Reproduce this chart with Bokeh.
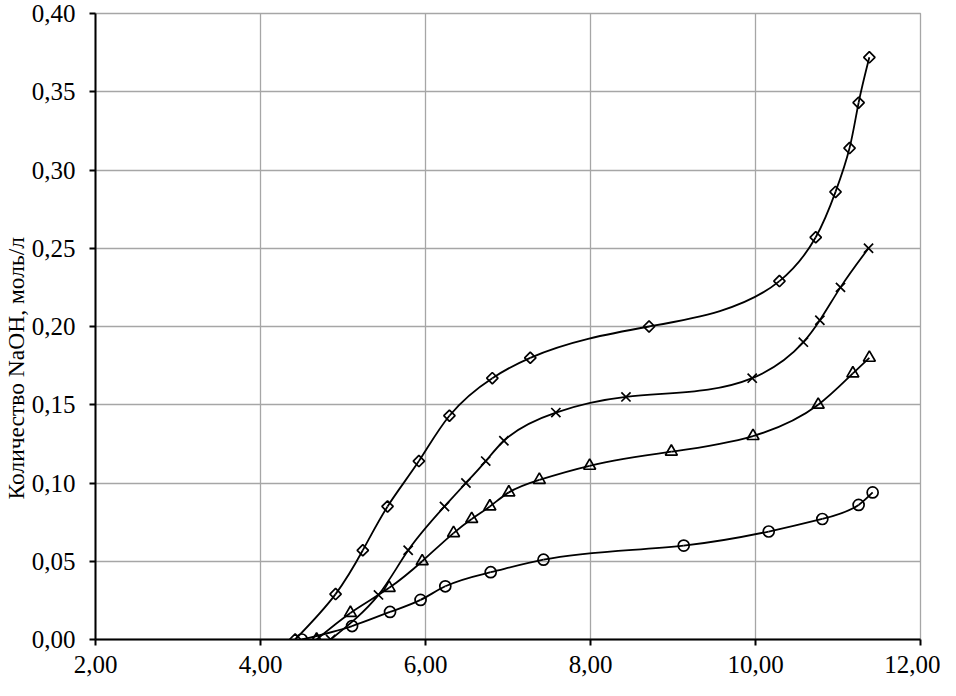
import math
from bokeh.plotting import figure
from bokeh.models import FixedTicker, CustomJSTickFormatter, ColumnDataSource, Title
from bokeh.embed import file_html
from bokeh.resources import INLINE

# ---- data ----
diamond_x = [4.42, 4.91, 5.24, 5.54, 5.92, 6.29, 6.81, 7.27, 8.71, 10.29, 10.73, 10.97, 11.14, 11.25, 11.38]
diamond_y = [0.000, 0.029, 0.057, 0.085, 0.114, 0.143, 0.167, 0.180, 0.200, 0.229, 0.257, 0.286, 0.314, 0.343, 0.372]

cross_x = [4.85, 5.43, 5.79, 6.23, 6.49, 6.73, 6.95, 7.58, 8.43, 9.96, 10.58, 10.78, 11.03, 11.37]
cross_y = [0.000, 0.0285, 0.057, 0.085, 0.100, 0.114, 0.127, 0.145, 0.155, 0.167, 0.190, 0.204, 0.225, 0.250]

triangle_x = [4.68, 5.09, 5.56, 5.96, 6.34, 6.56, 6.78, 7.01, 7.38, 7.99, 8.98, 9.97, 10.76, 11.18, 11.38]
triangle_y = [0.000, 0.017, 0.033, 0.050, 0.068, 0.077, 0.085, 0.094, 0.102, 0.111, 0.120, 0.130, 0.150, 0.170, 0.180]

circle_x = [4.50, 5.11, 5.57, 5.94, 6.24, 6.79, 7.43, 9.13, 10.16, 10.81, 11.25, 11.42]
circle_y = [0.000, 0.0086, 0.0176, 0.0253, 0.034, 0.043, 0.051, 0.060, 0.069, 0.077, 0.086, 0.094]

x_ticks = [2, 4, 6, 8, 10, 12]
y_ticks = [0.0, 0.05, 0.10, 0.15, 0.20, 0.25, 0.30, 0.35, 0.40]
y_label = "Количество NaOH, моль/л"

FONT = "'Liberation Serif', 'Times New Roman', serif"

W, H = 940, 680
BL, BR, BT, BB = 92, 20, 13, 41

p = figure(width=W, height=H, x_range=(2, 12), y_range=(0, 0.40),
           output_backend="svg", toolbar_location=None,
           min_border_left=BL, min_border_right=BR, min_border_top=BT, min_border_bottom=BB)

fmt = CustomJSTickFormatter(code="return tick.toFixed(2).replace('.', ',');")
p.xaxis.ticker = FixedTicker(ticks=x_ticks)
p.yaxis.ticker = FixedTicker(ticks=y_ticks)
p.xaxis.formatter = fmt
p.yaxis.formatter = fmt

for ax in (p.xaxis, p.yaxis):
    ax.axis_line_color = "black"
    ax.axis_line_width = 2
    ax.major_tick_line_color = "black"
    ax.major_tick_line_width = 2
    ax.major_tick_out = 6
    ax.major_tick_in = 0
    ax.minor_tick_line_color = None
    ax.major_label_text_font = FONT
    ax.major_label_text_font_size = "25px"
    ax.major_label_text_color = "black"

p.xaxis.major_label_standoff = 10
p.yaxis.major_label_standoff = 14

# y-axis title, placed a little below the frame centre as in the reference
p.add_layout(Title(text=y_label, align="left", offset=140, standoff=0,
                   text_font=FONT, text_font_size="23.5px", text_font_style="normal",
                   text_color="black"), "left")

p.xgrid.ticker = FixedTicker(ticks=x_ticks)
p.ygrid.ticker = FixedTicker(ticks=y_ticks)
p.grid.grid_line_color = "#a6a6a6"
p.grid.grid_line_width = 1.3
p.outline_line_color = "#a6a6a6"
p.outline_line_width = 1.3
p.background_fill_color = "white"
p.border_fill_color = "white"

# approximate screen scale (px per data unit) used only to shape the smooth curve
SX = (W - BL - BR) / 10.0
SY = (H - BT - BB) / 0.40


def natural_spline_ctrl(t, v):
    n = len(v)
    h = [t[i + 1] - t[i] for i in range(n - 1)]
    M = [0.0] * n
    if n > 2:
        m = n - 2
        a = [0.0] * m; b = [0.0] * m; c = [0.0] * m; r = [0.0] * m
        for k in range(m):
            i = k + 1
            a[k] = h[i - 1]
            b[k] = 2 * (h[i - 1] + h[i])
            c[k] = h[i]
            r[k] = 6 * ((v[i + 1] - v[i]) / h[i] - (v[i] - v[i - 1]) / h[i - 1])
        for k in range(1, m):
            w = a[k] / b[k - 1]
            b[k] -= w * c[k - 1]
            r[k] -= w * r[k - 1]
        sol = [0.0] * m
        sol[m - 1] = r[m - 1] / b[m - 1]
        for k in range(m - 2, -1, -1):
            sol[k] = (r[k] - c[k] * sol[k + 1]) / b[k]
        for k in range(m):
            M[k + 1] = sol[k]
    c0, c1 = [], []
    for i in range(n - 1):
        s = (v[i + 1] - v[i]) / h[i]
        d0 = s - h[i] * (2 * M[i] + M[i + 1]) / 6
        d1 = s + h[i] * (M[i] + 2 * M[i + 1]) / 6
        c0.append(v[i] + h[i] / 3 * d0)
        c1.append(v[i + 1] - h[i] / 3 * d1)
    return c0, c1


def smooth_segments(xs, ys):
    X = [x * SX for x in xs]
    Y = [y * SY for y in ys]
    t = [0.0]
    for i in range(1, len(X)):
        t.append(t[-1] + math.hypot(X[i] - X[i - 1], Y[i] - Y[i - 1]))
    cx0, cx1 = natural_spline_ctrl(t, X)
    cy0, cy1 = natural_spline_ctrl(t, Y)
    return ColumnDataSource(dict(
        x0=xs[:-1], y0=ys[:-1], x1=xs[1:], y1=ys[1:],
        cx0=[c / SX for c in cx0], cy0=[c / SY for c in cy0],
        cx1=[c / SX for c in cx1], cy1=[c / SY for c in cy1]))


series = [
    (diamond_x, diamond_y, "square", 8, math.pi / 4),
    (cross_x, cross_y, "x", 13, 0.0),
    (triangle_x, triangle_y, "triangle", 12, 0.0),
    (circle_x, circle_y, "circle", 11, 0.0),
]

for xs, ys, marker, size, ang in series:
    src = smooth_segments(xs, ys)
    p.bezier(x0="x0", y0="y0", x1="x1", y1="y1", cx0="cx0", cy0="cy0",
             cx1="cx1", cy1="cy1", source=src, line_color="black", line_width=1.8)
for xs, ys, marker, size, ang in series:
    p.scatter(xs, ys, marker=marker, size=size, angle=ang, fill_color=None,
              line_color="black", line_width=1.7)

open("out.html", "w").write(file_html(p, INLINE))
